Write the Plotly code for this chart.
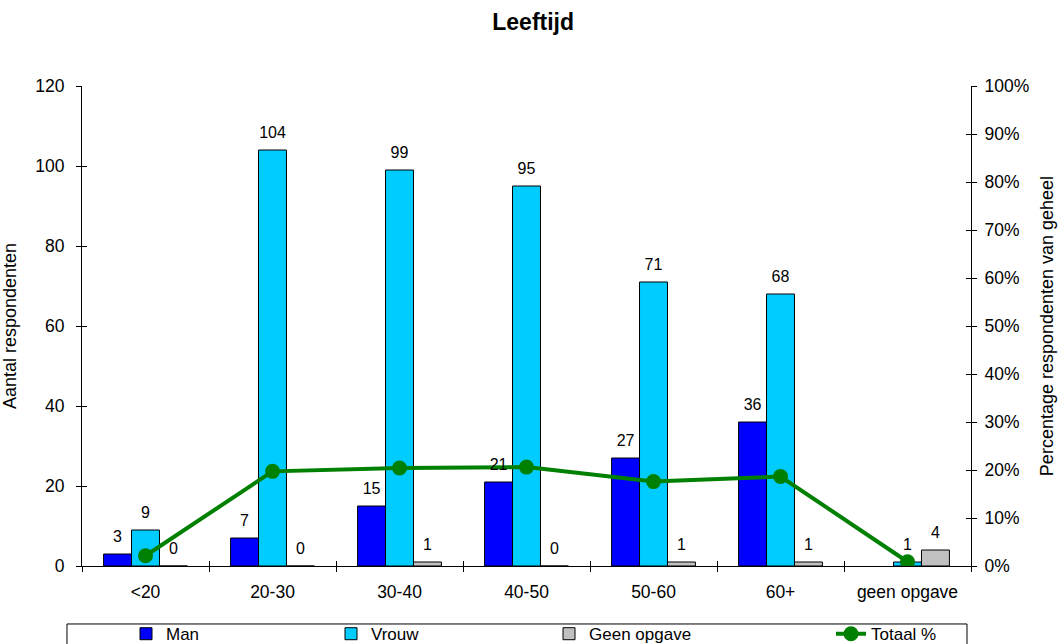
import plotly.graph_objects as go

# Leeftijdsgroepen en aantallen respondenten
categorieen = ["<20", "20-30", "30-40", "40-50", "50-60", "60+", "geen opgave"]
man = [3, 7, 15, 21, 27, 36, None]
vrouw = [9, 104, 99, 95, 71, 68, 1]
geen_opgave = [0, 0, 1, 0, 1, 1, 4]

# Aandeel van het totaal per groep
totaal = sum((m or 0) + v + g for m, v, g in zip(man, vrouw, geen_opgave))
totaal_pct = [((m or 0) + v + g) / totaal for m, v, g in zip(man, vrouw, geen_opgave)]

FONT = "Liberation Sans, Arial, sans-serif"
FS = 17.5
GAP = 0.34

def labels(vals):
    return ["" if v is None else str(v) for v in vals]

series = [
    ("Man", man, "#0000FF", "legend"),
    ("Vrouw", vrouw, "#00CCFF", "legend2"),
    ("Geen opgave", geen_opgave, "#C0C0C0", "legend3"),
]

fig = go.Figure()
for i, (naam, waarden, kleur, lg) in enumerate(series):
    fig.add_trace(go.Bar(
        name=naam, x=categorieen, y=waarden, legend=lg, offsetgroup=str(i),
        marker=dict(color=kleur, line=dict(color="black", width=1)),
    ))
# Waardelabels boven de staven (zelfde groepering als de staven)
for i, (naam, waarden, kleur, lg) in enumerate(series):
    fig.add_trace(go.Scatter(
        x=categorieen, y=waarden, text=labels(waarden), xaxis="x2", yaxis="y3",
        mode="markers+text", textposition="top center", offsetgroup=str(i),
        marker=dict(size=12, opacity=0), showlegend=False, hoverinfo="skip",
        cliponaxis=False, textfont=dict(size=16, color="black", family=FONT),
    ))
# Totaallijn in het midden van elke categorie (middelste groep)
fig.add_trace(go.Scatter(
    name="Totaal %", x=categorieen, y=totaal_pct, yaxis="y2", legend="legend4",
    mode="lines+markers", offsetgroup="1",
    line=dict(color="#008000", width=4),
    marker=dict(color="#008000", size=15),
))

leg = dict(orientation="h", xanchor="left", y=-0.142, yanchor="middle",
           bgcolor="rgba(0,0,0,0)", font=dict(size=17, family=FONT),
           itemclick=False)

fig.update_layout(
    width=1060, height=644,
    margin=dict(l=82, r=89, t=86, b=78, autoexpand=False),
    paper_bgcolor="white", plot_bgcolor="white",
    font=dict(family=FONT, size=FS, color="black"),
    title=dict(text="<b>Leeftijd</b>", x=0.503, xanchor="center", y=0.966,
               yanchor="middle", font=dict(size=23, family=FONT)),
    barmode="group", bargap=GAP, bargroupgap=0,
    scattermode="group", scattergap=GAP,
    showlegend=True,
    legend=dict(leg, x=(126 - 82) / 889),
    legend2=dict(leg, x=(331 - 82) / 889),
    legend3=dict(leg, x=(549 - 82) / 889),
    legend4=dict(leg, x=(831 - 82) / 889),
    xaxis=dict(type="category", showline=True, linecolor="black", linewidth=1,
               ticks="outside", ticklen=5, tickcolor="black", tickson="boundaries",
               showgrid=False, tickfont=dict(size=FS), ticklabelstandoff=10),
    xaxis2=dict(type="category", overlaying="x", matches="x", showline=False,
                ticks="inside", ticklen=5, tickcolor="black", tickson="boundaries",
                showgrid=False, showticklabels=False),
    yaxis=dict(range=[0, 120], dtick=20, showline=True, linecolor="black",
               linewidth=1, ticks="outside", ticklen=5, tickcolor="black",
               showgrid=False, zeroline=False, tickfont=dict(size=FS),
               ticklabelstandoff=8,
               title=dict(text="Aantal respondenten", font=dict(size=18), standoff=13)),
    yaxis3=dict(range=[0, 120], dtick=20, overlaying="y", side="left",
                showline=False, ticks="inside", ticklen=5, tickcolor="black",
                showgrid=False, zeroline=False, showticklabels=False),
    yaxis2=dict(range=[0, 1], dtick=0.1, tickformat=".0%", overlaying="y",
                side="right", showline=True, linecolor="black", linewidth=1,
                ticks="outside", ticklen=5, tickcolor="black", showgrid=False,
                zeroline=False, tickfont=dict(size=FS), ticklabelstandoff=4,
                title=dict(text="Percentage respondenten van geheel",
                           font=dict(size=18), standoff=12)),
    yaxis4=dict(range=[0, 1], dtick=0.1, overlaying="y", side="right",
                showline=False, ticks="inside", ticklen=5, tickcolor="black",
                showgrid=False, zeroline=False, showticklabels=False),
    shapes=[dict(type="rect", xref="paper", yref="paper",
                 x0=-0.0169, x1=0.9955, y0=-0.17, y1=-0.1208,
                 line=dict(color="black", width=1), fillcolor="rgba(0,0,0,0)")],
)
fig.add_trace(go.Scatter(x=[None], y=[None], yaxis="y4", showlegend=False,
                         hoverinfo="skip", mode="markers"))

fig.write_html("out.html")
